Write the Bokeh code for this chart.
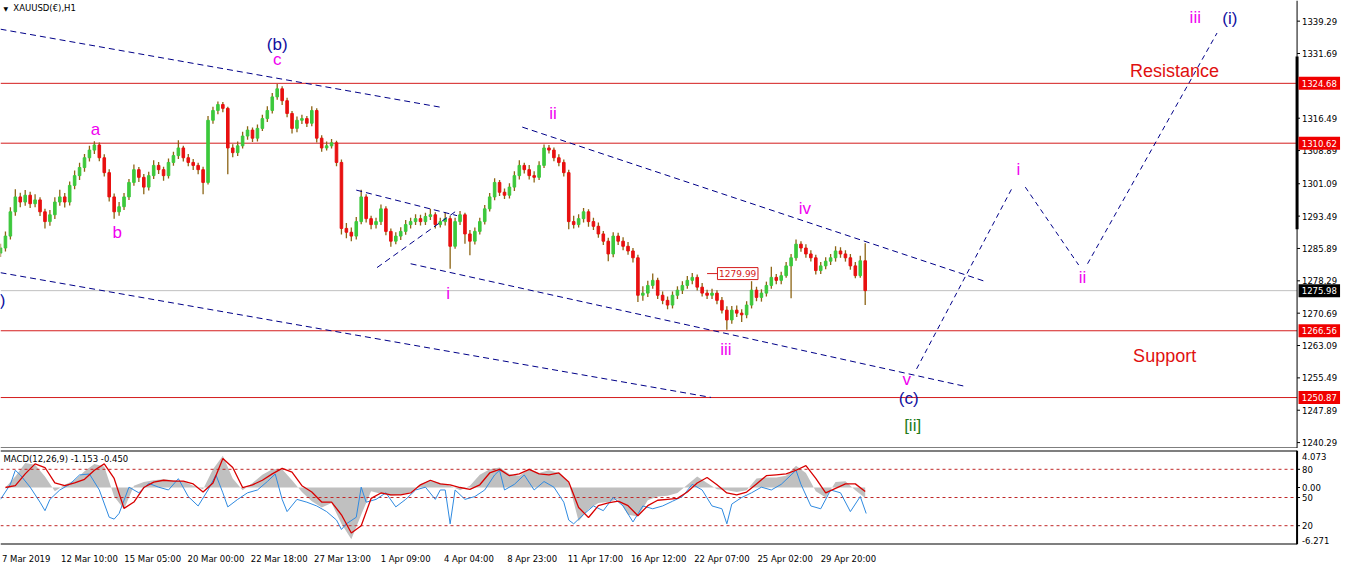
from bokeh.plotting import figure
from bokeh.models import Range1d, ColumnDataSource, FixedTicker
from bokeh.layouts import column
from bokeh.embed import file_html
from bokeh.resources import INLINE
from bokeh.core.properties import value

# ---------------- DATA ----------------
# bar positions (hour index along the time axis, one bar per 5 hours)
bar_x = list(range(0, 880, 5))
first_open = 1284.8
closes = [
    1286.0, 1288.8, 1294.5, 1298.0, 1296.8, 1298.4, 1296.4, 1297.3, 1294.5, 1292.2,
    1293.8, 1296.8, 1298.0, 1296.8, 1300.7, 1303.0, 1304.9, 1307.2, 1309.0, 1310.2,
    1307.2, 1303.7, 1298.0, 1294.5, 1295.7, 1298.0, 1301.4, 1304.4, 1302.6, 1300.3,
    1303.0, 1305.4, 1304.4, 1303.0, 1306.1, 1307.7, 1309.5, 1307.2, 1306.1, 1305.4,
    1304.4, 1301.4, 1316.0, 1318.3, 1319.7, 1318.8, 1309.5, 1308.4, 1310.0, 1312.3,
    1313.7, 1311.8, 1314.1, 1316.4, 1318.3, 1321.5, 1323.4, 1320.6, 1317.6, 1314.1,
    1316.0, 1316.4, 1315.3, 1318.3, 1311.8, 1309.5, 1310.0, 1310.7, 1306.1, 1290.6,
    1289.7, 1288.8, 1292.2, 1298.0, 1292.9, 1291.5, 1292.2, 1295.2, 1289.9, 1287.6,
    1288.8, 1289.9, 1291.5, 1292.2, 1292.9, 1292.2, 1293.4, 1293.8, 1291.5, 1292.2,
    1292.9, 1286.4, 1292.2, 1293.8, 1289.3, 1287.6, 1289.9, 1292.2, 1295.2, 1298.0,
    1301.4, 1299.1, 1298.4, 1300.3, 1303.0, 1305.4, 1304.4, 1303.0, 1302.6, 1305.4,
    1309.5, 1309.0, 1307.2, 1306.1, 1303.7, 1292.2, 1291.5, 1292.9, 1294.5, 1292.2,
    1291.1, 1289.3, 1287.6, 1284.6, 1288.8, 1287.6, 1286.4, 1285.3, 1283.7, 1274.9,
    1275.4, 1277.2, 1278.4, 1274.9, 1273.7, 1272.6, 1274.9, 1276.1, 1277.2, 1278.4,
    1279.1, 1276.8, 1275.4, 1274.9, 1275.4, 1273.7, 1271.4, 1269.1, 1271.4, 1270.7,
    1270.3, 1272.6, 1276.1, 1274.4, 1275.4, 1277.2, 1279.1, 1278.4, 1279.5, 1281.8,
    1283.7, 1286.9, 1286.0, 1284.6, 1283.7, 1280.7, 1281.8, 1282.9, 1283.7, 1285.3,
    1284.6, 1283.7, 1281.8, 1279.5, 1283.0, 1275.98,
]
highs = [
    1287.0, 1289.9, 1295.6, 1299.8, 1299.0, 1299.6, 1299.2, 1298.6, 1297.9, 1295.2,
    1294.9, 1297.9, 1299.7, 1298.9, 1301.6, 1304.2, 1306.0, 1308.1, 1310.0, 1311.1,
    1310.8, 1308.0, 1304.5, 1298.8, 1296.8, 1298.9, 1302.2, 1305.6, 1305.0, 1303.4,
    1303.9, 1306.6, 1306.2, 1305.1, 1307.0, 1308.6, 1311.3, 1310.0, 1308.1, 1306.9,
    1306.0, 1305.1, 1317.0, 1319.2, 1320.4, 1320.3, 1319.2, 1310.4, 1311.0, 1313.3,
    1314.6, 1314.3, 1315.0, 1317.3, 1319.3, 1322.4, 1324.5, 1324.0, 1321.3, 1318.2,
    1316.9, 1317.3, 1317.0, 1319.3, 1318.8, 1312.5, 1311.0, 1311.6, 1311.2, 1306.8,
    1291.9, 1290.8, 1293.3, 1299.7, 1298.6, 1293.6, 1293.1, 1296.2, 1295.8, 1290.6,
    1289.7, 1290.9, 1292.6, 1293.1, 1293.9, 1293.8, 1294.3, 1295.2, 1294.4, 1293.1,
    1294.4, 1293.6, 1293.1, 1294.7, 1294.3, 1290.2, 1290.8, 1293.1, 1296.1, 1298.9,
    1302.4, 1302.0, 1300.0, 1301.2, 1304.0, 1306.6, 1306.0, 1305.5, 1304.0, 1306.4,
    1310.3, 1310.2, 1309.6, 1308.0, 1306.8, 1304.4, 1293.6, 1293.9, 1295.4, 1295.1,
    1293.1, 1292.0, 1290.0, 1288.4, 1289.7, 1289.6, 1288.5, 1287.4, 1286.0, 1284.4,
    1277.0, 1278.3, 1280.0, 1279.0, 1275.8, 1274.6, 1275.8, 1277.0, 1278.2, 1279.4,
    1280.1, 1279.8, 1277.8, 1276.2, 1276.4, 1276.1, 1274.5, 1272.3, 1272.4, 1272.5,
    1271.6, 1273.5, 1278.2, 1276.9, 1276.3, 1278.1, 1281.6, 1279.9, 1280.4, 1282.7,
    1284.6, 1288.0, 1287.6, 1286.9, 1285.5, 1284.4, 1282.7, 1283.8, 1284.6, 1286.4,
    1286.2, 1285.5, 1284.6, 1282.7, 1284.2, 1287.1,
]
lows = [
    1283.9, 1285.2, 1288.0, 1293.6, 1295.6, 1295.9, 1295.4, 1295.6, 1293.5, 1290.6,
    1291.2, 1292.8, 1295.9, 1295.5, 1296.0, 1299.8, 1302.0, 1303.9, 1306.3, 1308.1,
    1306.4, 1302.8, 1296.9, 1292.9, 1293.6, 1294.9, 1297.3, 1300.6, 1301.5, 1298.6,
    1299.5, 1302.2, 1303.4, 1301.8, 1302.3, 1305.3, 1306.9, 1306.3, 1305.2, 1304.3,
    1303.3, 1298.6, 1300.9, 1315.2, 1317.4, 1317.9, 1303.3, 1307.3, 1307.6, 1309.4,
    1311.4, 1310.9, 1311.0, 1313.5, 1315.6, 1317.6, 1320.8, 1319.6, 1316.7, 1312.9,
    1313.2, 1315.1, 1314.4, 1314.6, 1310.8, 1308.6, 1308.9, 1309.4, 1305.2, 1289.2,
    1288.3, 1287.6, 1288.0, 1291.6, 1292.0, 1290.4, 1290.6, 1291.4, 1289.0, 1286.3,
    1286.9, 1287.9, 1289.1, 1290.6, 1291.4, 1291.3, 1291.4, 1292.6, 1290.6, 1290.8,
    1291.3, 1281.1, 1285.8, 1291.4, 1287.0, 1284.3, 1286.8, 1289.2, 1291.5, 1294.6,
    1297.2, 1298.2, 1297.5, 1297.6, 1299.4, 1302.1, 1303.5, 1302.1, 1301.4, 1302.0,
    1304.8, 1308.2, 1306.4, 1305.2, 1302.8, 1290.4, 1290.6, 1290.8, 1292.0, 1291.0,
    1290.2, 1288.4, 1286.7, 1282.9, 1283.8, 1286.7, 1285.5, 1284.4, 1282.6, 1273.3,
    1273.6, 1274.5, 1276.4, 1274.0, 1272.8, 1271.6, 1271.8, 1274.0, 1275.2, 1276.4,
    1277.5, 1276.0, 1274.6, 1274.0, 1274.0, 1272.8, 1270.6, 1266.8, 1268.2, 1269.8,
    1268.6, 1269.5, 1271.8, 1273.5, 1273.4, 1274.6, 1276.4, 1277.5, 1277.5, 1279.0,
    1274.2, 1283.0, 1285.1, 1283.7, 1282.8, 1279.8, 1279.9, 1281.0, 1282.0, 1282.8,
    1283.7, 1282.8, 1280.9, 1278.9, 1279.0, 1272.6,
]

# horizontal levels
red_levels = [1324.68, 1310.62, 1266.56, 1250.87]
current_price = 1275.98
marked_price = 1279.99
marked_x = 746

# trend channel lines (x = hour index, y = price)
ch_x0 = [0, 0, 360, 381, 415, 528]
ch_y0 = [1337.4, 1280.2, 1299.6, 1281.4, 1282.3, 1314.4]
ch_x1 = [447, 719, 462, 460, 978, 997]
ch_y1 = [1319.0, 1250.9, 1293.6, 1294.5, 1253.4, 1278.1]

# projected wave path
proj_x0 = [927, 1037, 1100]
proj_y0 = [1257.6, 1300.3, 1282.3]
proj_x1 = [1023, 1091, 1231]
proj_y1 = [1299.8, 1282.0, 1336.5]

# wave labels
mag_text = ["c", "a", "b", "ii", "i", "iii", "iv", "v", "i", "ii", "iii"]
mag_x = [280, 96, 118, 559, 453, 734, 814, 917, 1030, 1095, 1209]
mag_y = [1330.3, 1313.9, 1289.7, 1317.6, 1275.3, 1262.2, 1295.2, 1255.0, 1304.4, 1279.0, 1340.2]
navy_text = ["(b)", "(c)", "(i)", ")"]
navy_x = [280, 919, 1244, 2]
navy_y = [1333.8, 1250.7, 1339.8, 1273.7]
green_text = ["[ii]"]
green_x = [923]
green_y = [1244.4]
zone_text = ["Resistance", "Support"]
zone_x = [1188, 1178]
zone_y = [1327.5, 1260.6]

# price scale
price_ticks = [1339.29, 1331.69, 1316.49, 1308.89, 1301.09, 1293.49, 1285.89,
               1278.29, 1270.69, 1263.09, 1255.49, 1247.89, 1240.29]
price_labels = ["%.2f" % v for v in price_ticks]

# time axis
time_tick_pos = [-2, 62, 126, 190, 254, 318, 382, 446, 510, 574, 638, 702, 766, 830]
time_labels = ["7 Mar 2019", "12 Mar 10:00", "15 Mar 05:00", "20 Mar 00:00", "22 Mar 18:00",
               "27 Mar 13:00", "1 Apr 09:00", "4 Apr 04:00", "8 Apr 23:00", "11 Apr 17:00",
               "16 Apr 12:00", "22 Apr 07:00", "25 Apr 02:00", "29 Apr 20:00"]

# MACD (main histogram and signal), one value per 10 hours
macd_x = list(range(5, 880, 10))
macd_hist = [
    0.0, 1.2, 2.7, 2.5, 1.2, -0.4, 0.3, 0.8, 1.8, 2.6,
    2.3, -1.0, -2.4, 0.2, 0.6, 0.8, 0.9, 0.8, 0.7, 0.2,
    -0.2, 2.0, 3.5, 1.0, -0.3, 0.5, 1.4, 2.0, 2.0, 0.8,
    -0.5, -1.5, -2.2, -1.7, -4.0, -5.7, -3.0, -0.4, -0.7, -0.9,
    -0.8, -0.5, 0.4, 0.8, 0.5, 0.2, -0.3, 0.2, 1.4, 2.0,
    2.2, 1.5, 1.3, 2.0, 1.6, 1.9, 1.6, 0.5, -3.7, -2.4,
    -1.7, -1.6, -1.3, -3.0, -3.2, -1.4, -1.0, -0.9, -0.6, 0.3,
    1.2, 0.5, -0.2, -0.3, -0.5, -0.3, 1.0, 1.1, 1.1, 1.3,
    2.4, 1.6, -0.4, -1.1, 0.6, 0.7, -0.3, -1.153,
]
macd_signal = [
    0.0, 0.2, 1.5, 2.6, 2.2, 0.5, 0.2, 0.5, 0.9, 1.9,
    2.6, 1.0, -2.3, -1.6, 0.0, 0.6, 0.8, 0.7, 0.7, 0.4,
    -0.5, 0.5, 3.2, 2.2, 0.0, 0.3, 0.8, 1.5, 2.1, 1.7,
    0.2, -0.5, -1.6, -1.6, -3.0, -5.0, -4.2, -1.2, -0.6, -0.8,
    -0.8, -0.6, 0.3, 0.8, 0.4, 0.3, 0.0, -0.2, 0.3, 1.6,
    2.0, 1.3, 1.5, 2.0, 1.5, 1.4, 1.6, 0.6, -2.2, -3.3,
    -2.0, -1.7, -1.5, -2.0, -3.1, -2.0, -1.4, -1.3, -1.2, -0.5,
    0.5, 1.1, 0.3, -0.6, -0.8, -0.5, 0.4, 1.3, 1.4, 1.5,
    1.9, 2.4, 1.0, -0.6, -0.1, 0.4, 0.4, -0.45,
]
# oscillator (0..100) drawn in the same pane
osc_x = [0, 10, 15, 20, 30, 40, 45, 50, 60, 70, 80, 90, 100, 110, 115, 120, 130, 140, 150, 160,
         170, 180, 190, 200, 210, 218, 225, 230, 240, 250, 260, 270, 278, 285, 290, 300, 310, 320,
         330, 340, 345, 350, 360, 365, 370, 380, 390, 400, 410, 420, 430, 440, 445, 450, 455, 460,
         470, 480, 490, 500, 505, 510, 520, 530, 540, 550, 560, 570, 575, 580, 590, 600, 610, 620,
         630, 640, 650, 660, 670, 680, 690, 700, 710, 720, 730, 735, 740, 750, 760, 770, 780, 790,
         800, 805, 810, 820, 830, 840, 850, 860, 870, 876]
osc_v = [48, 64, 79, 74, 61, 45, 36, 48, 58, 64, 74, 75, 58, 29, 27, 33, 61, 55, 65, 61,
         58, 70, 51, 41, 58, 74, 55, 40, 48, 55, 58, 67, 75, 48, 35, 48, 45, 41,
         35, 26, 16, 22, 29, 61, 45, 48, 55, 40, 48, 58, 61, 48, 58, 58, 22, 58,
         48, 51, 58, 74, 79, 58, 64, 74, 58, 67, 61, 45, 26, 22, 32, 41, 36, 50,
         41, 24, 41, 38, 41, 46, 51, 64, 58, 41, 38, 22, 43, 50, 55, 61, 58, 64,
         74, 79, 64, 41, 38, 58, 55, 35, 51, 33]
osc_levels = [80, 50, 20]
macd_range = (-6.271, 4.073)

# ---------------- STYLE ----------------
FONT = "DejaVu Sans"
WFONT = "Liberation Sans"
AXIS_X = 1312
XMAX = 1360
YMIN, YMAX = 1238.9, 1344.14
UP, DOWN, WICK = "#3cc83c", "#e81010", "#8c6414"
RED = "#d41c1c"
NAVY = "#000088"
MAG = "#f000f0"

opens = [first_open] + closes[:-1]
colors = [UP if c >= o else DOWN for o, c in zip(opens, closes)]
src = ColumnDataSource(dict(x=bar_x, o=opens, c=closes, h=highs, l=lows, col=colors))

p = figure(width=1344, height=448, x_range=Range1d(0, XMAX), y_range=Range1d(YMIN, YMAX),
           output_backend="svg", toolbar_location=None, min_border=0,
           x_axis_location=None, y_axis_location=None)
p.outline_line_color = None
p.grid.grid_line_color = None
p.background_fill_color = "white"

# levels
p.segment(x0=0, x1=AXIS_X, y0=red_levels, y1=red_levels, line_color=RED, line_width=1)
p.segment(x0=0, x1=AXIS_X, y0=[current_price], y1=[current_price], line_color="#c0c0c0", line_width=1)

# bars: brown range line + coloured open/close part
p.segment(x0="x", x1="x", y0="l", y1="h", line_color=WICK, line_width=1.3, source=src)
p.vbar(x="x", bottom="o", top="c", width=2.6, color="col", source=src)

# channels
p.segment(x0=ch_x0, y0=ch_y0, x1=ch_x1, y1=ch_y1, line_color=NAVY, line_width=1, line_dash="6 4")
p.segment(x0=proj_x0, y0=proj_y0, x1=proj_x1, y1=proj_y1, line_color=NAVY, line_width=1, line_dash="5 4")

# marked price label
p.segment(x0=[marked_x - 31], x1=[marked_x - 21], y0=[marked_price], y1=[marked_price], line_color=RED)
p.rect(x=[marked_x], y=[marked_price], width=41, height=12, height_units="screen",
       fill_color="white", line_color=RED, line_width=1)
p.text(x=[marked_x], y=[marked_price], text=["%.2f" % marked_price], text_color=RED,
       text_font=value(FONT), text_font_size=value("9px"), text_align="center", text_baseline="middle")

# wave labels
p.text(x=mag_x, y=mag_y, text=mag_text, text_color=MAG, text_font=value(WFONT),
       text_font_size=value("17px"), text_align="center", text_baseline="middle")
p.text(x=navy_x, y=navy_y, text=navy_text, text_color="#1010a0", text_font=value(WFONT),
       text_font_size=value("17px"), text_align="center", text_baseline="middle")
p.text(x=green_x, y=green_y, text=green_text, text_color="#237a18", text_font=value(WFONT),
       text_font_size=value("17px"), text_align="center", text_baseline="middle")
p.text(x=zone_x, y=zone_y, text=zone_text, text_color="#e01010", text_font=value(WFONT),
       text_font_size=value("18px"), text_align="center", text_baseline="middle")

# title
p.text(x=[3], y=[YMAX], text=["\u25bc"], text_color="black", text_font=value(FONT),
       text_font_size=value("6px"), text_baseline="top", y_offset=4)
p.text(x=[13], y=[YMAX], text=["XAUUSD(\u20ac),H1"], text_color="black", text_font=value(FONT),
       text_font_size=value("8.5px"), text_baseline="top", y_offset=2)

# price scale (right)
p.segment(x0=[AXIS_X], x1=[AXIS_X], y0=[YMIN], y1=[YMAX], line_color="black", line_width=1)
p.segment(x0=[0], x1=[AXIS_X], y0=[YMIN], y1=[YMIN], line_color="black", line_width=2)
p.segment(x0=[AXIS_X], x1=[AXIS_X], y0=[1290.4], y1=[1331.0], line_color="black", line_width=3)
p.segment(x0=AXIS_X, x1=AXIS_X + 3, y0=price_ticks, y1=price_ticks, line_color="black")
p.text(x=AXIS_X + 5, y=price_ticks, text=price_labels, text_color="black", text_font=value(FONT),
       text_font_size=value("8.5px"), text_align="left", text_baseline="middle")
p.rect(x=AXIS_X + 22.5, y=red_levels, width=42, height=13, height_units="screen",
       fill_color="#f00000", line_color=None)
p.text(x=AXIS_X + 22.5, y=red_levels, text=["%.2f" % v for v in red_levels], text_color="white",
       text_font=value(FONT), text_font_size=value("8.5px"), text_align="center", text_baseline="middle")
p.rect(x=[AXIS_X + 22.5], y=[current_price], width=42, height=13, height_units="screen",
       fill_color="black", line_color=None)
p.text(x=[AXIS_X + 22.5], y=[current_price], text=["%.2f" % current_price], text_color="white",
       text_font=value(FONT), text_font_size=value("8.5px"), text_align="center", text_baseline="middle")

# ---------------- MACD pane ----------------
m = figure(width=1344, height=118, x_range=p.x_range, y_range=Range1d(*macd_range),
           output_backend="svg", toolbar_location=None, min_border=0, min_border_top=2,
           y_axis_location=None)
m.extra_y_ranges = {"osc": Range1d(0, 100)}
m.outline_line_color = None
m.grid.grid_line_color = None

m.varea(x=macd_x, y1=0, y2=macd_hist, fill_color="#c0c0c0")
m.segment(x0=0, x1=AXIS_X, y0=osc_levels, y1=osc_levels, y_range_name="osc",
          line_color="#c02828", line_dash="3 3", line_width=1)
m.line(x=osc_x, y=osc_v, y_range_name="osc", line_color="#2f8ae0", line_width=1)
m.line(x=macd_x, y=macd_signal, line_color="#d80000", line_width=1.3)

# pane box
m.segment(x0=[0, 0, AXIS_X], x1=[AXIS_X, AXIS_X, AXIS_X],
          y0=[macd_range[1], macd_range[0], macd_range[0]],
          y1=[macd_range[1], macd_range[0], macd_range[1]], line_color="black", line_width=2)

m.text(x=[3], y=[macd_range[1]], text=["MACD(12,26,9) -1.153 -0.450"], text_color="black",
       text_font=value(FONT), text_font_size=value("8.5px"), text_baseline="top", y_offset=3)

# right scale of the MACD pane
m.text(x=[AXIS_X + 5], y=[macd_range[1]], text=["%.3f" % macd_range[1]], text_font=value(FONT),
       text_font_size=value("8.5px"), text_baseline="top", y_offset=2)
m.text(x=[AXIS_X + 5], y=[0], text=["0.00"], text_font=value(FONT),
       text_font_size=value("8.5px"), text_baseline="middle")
m.text(x=[AXIS_X + 5], y=[macd_range[0]], text=["%.3f" % macd_range[0]], text_font=value(FONT),
       text_font_size=value("8.5px"), text_baseline="bottom", y_offset=-1)
m.text(x=AXIS_X + 5, y=osc_levels, text=[str(v) for v in osc_levels], y_range_name="osc",
       text_font=value(FONT), text_font_size=value("8.5px"), text_baseline="middle")
m.segment(x0=AXIS_X, x1=AXIS_X + 3, y0=[0], y1=[0], line_color="black")
m.segment(x0=AXIS_X, x1=AXIS_X + 3, y0=osc_levels, y1=osc_levels, y_range_name="osc", line_color="black")

# time axis (labels start at the tick, as in the original)
centers = [t + 28 for t in time_tick_pos]
ax = m.xaxis[0]
ax.ticker = FixedTicker(ticks=centers)
ax.major_label_overrides = {c: lab for c, lab in zip(centers, time_labels)}
ax.axis_line_color = None
ax.major_tick_line_color = None
ax.minor_tick_line_color = None
ax.major_label_standoff = 3
ax.major_label_text_font = FONT
ax.major_label_text_font_size = "8.5px"
ax.major_label_text_color = "black"

layout = column(p, m, spacing=0)
open("out.html", "w").write(file_html(layout, INLINE))
